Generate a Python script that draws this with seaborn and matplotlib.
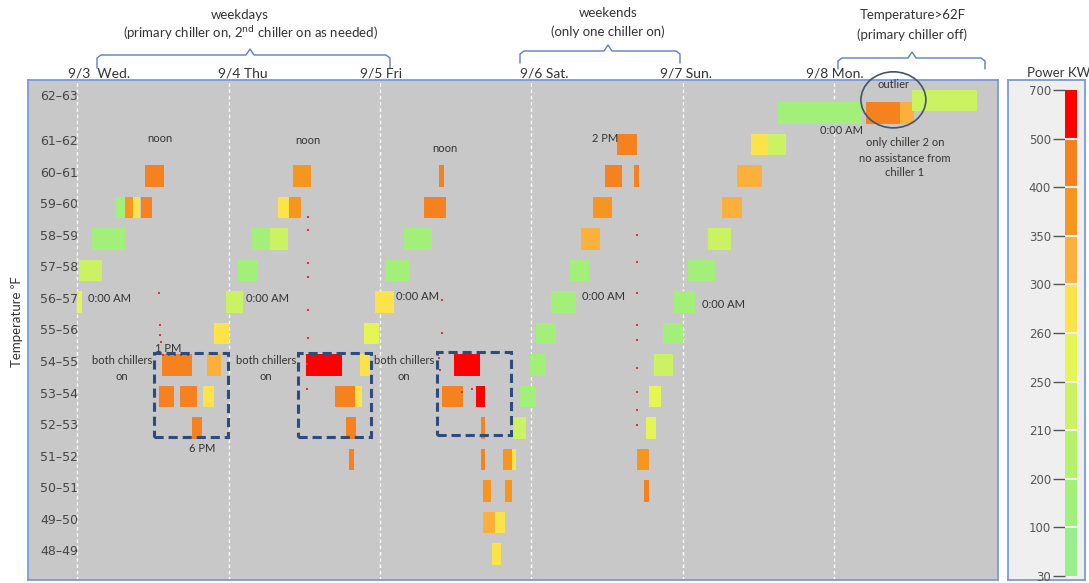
import numpy as np
import pandas as pd
import matplotlib
matplotlib.use("Agg")
import matplotlib.pyplot as plt
import seaborn as sns
from matplotlib.colors import ListedColormap, BoundaryNorm
from matplotlib.patches import Rectangle, Ellipse
from matplotlib.lines import Line2D
import matplotlib.colorbar as mcolorbar

# ---------------- data ----------------
temp_bin_low = [48, 49, 50, 51, 52, 53, 54, 55, 56, 57, 58, 59, 60, 61, 62]
temp_bins = [f"{b}\u2013{b+1}" for b in temp_bin_low]

kw_bounds = [30, 100, 200, 210, 250, 260, 300, 350, 400, 500, 700]
kw_colors = ['#98f08c', '#a2f07a', '#b4f26c', '#cbf263', '#e4f556',
             '#fde34a', '#fbb03b', '#f7961f', '#f5821f', '#ff0000']

day_labels = ['9/3  Wed.', '9/4 Thu', '9/5 Fri', '9/6 Sat.', '9/7 Sun.', '9/8 Mon.']
day_start_hours = [0, 24, 48, 72, 96, 120]

# blobs of readings: start hour, end hour (from 9/3 0:00), temperature bin, power kW
blob_t0 = [0.0, 0.2, 2.3, 6.0, 7.5, 8.8, 10.1, 10.8, 13.4, 20.6, 12.9, 16.2, 19.9, 18.1, 21.6, 23.5,
           25.4, 27.5, 30.5, 31.8, 33.5, 34.2, 36.2, 44.8, 40.8, 44.0, 42.6, 43.0, 45.4, 47.2,
           48.8, 51.8, 55.0, 57.4, 59.8, 57.8, 63.2, 64.0, 64.0, 67.5, 69.0, 64.3, 67.8, 64.3, 66.2,
           65.8, 69.1, 70.2, 71.8, 72.8, 75.1,
           78.1, 79.8, 81.7, 83.7, 85.6, 88.3, 88.8, 89.9, 90.2, 90.7, 91.5, 92.9, 94.6,
           96.9, 100.0, 102.2, 104.6, 106.9, 109.5, 111.1, 125.0, 130.5, 132.3]
blob_t1 = [0.8, 3.9, 7.5, 7.5, 8.8, 10.0, 11.8, 13.7, 18.1, 22.7, 15.3, 18.9, 21.6, 19.8, 24.0, 26.2,
           28.6, 30.5, 33.4, 33.5, 35.5, 37.1, 41.9, 46.4, 44.0, 45.1, 44.2, 43.8, 47.8, 50.2,
           52.6, 56.3, 58.4, 58.2, 63.8, 61.1, 64.6, 64.6, 64.6, 69.0, 69.6, 65.6, 69.0, 66.2, 67.8,
           67.1, 71.2, 72.8, 74.2, 75.9, 79.0,
           81.2, 82.9, 84.8, 86.4, 88.7, 89.0, 90.6, 90.6, 91.8, 92.5, 94.4, 96.0, 98.0,
           101.1, 103.7, 105.4, 108.5, 109.5, 112.3, 124.5, 130.5, 132.6, 142.6]
blob_temp = [56, 57, 58, 59, 59, 59, 59, 60, 54, 54, 53, 53, 53, 52, 55, 56,
             57, 58, 58, 59, 59, 60, 54, 54, 53, 53, 52, 51, 55, 56,
             57, 58, 59, 60, 54, 53, 53, 52, 51, 51, 51, 50, 50, 49, 49,
             48, 52, 53, 54, 55, 56,
             57, 58, 59, 60, 61, 60, 51, 50, 52, 53, 54, 55, 56,
             57, 58, 59, 60, 61, 61, 62, 62, 62, 62.4]
blob_kw = [250, 215, 150, 180, 380, 280, 400, 420, 450, 300, 420, 430, 290, 420, 280, 245,
           170, 160, 230, 290, 380, 380, 600, 290, 430, 290, 400, 400, 255, 265,
           190, 160, 400, 400, 600, 430, 550, 400, 400, 370, 280, 380, 360, 340, 290,
           280, 240, 170, 150, 150, 150,
           180, 330, 370, 400, 400, 400, 380, 400, 255, 250, 240, 180, 150,
           150, 230, 300, 340, 290, 220, 180, 430, 300, 230]

# isolated readings (thin trails)
dot_t = [13.0, 13.1, 13.1, 13.2, 13.6, 14.5, 15.5, 16.5, 17.5,
         36.6, 36.6, 36.6, 36.6, 36.6, 36.6, 36.4, 36.4,
         57.8, 57.8, 57.3, 57.5, 61.0, 62.5,
         88.8, 88.8, 88.8, 88.8, 88.8, 88.8, 88.8, 88.8, 88.8]
dot_temp = [56.66, 55.64, 55.33, 55.10, 54.68, 54.68, 54.68, 54.68, 54.68,
            59.07, 58.66, 57.61, 57.17, 56.12, 55.23, 54.40, 53.60,
            56.44, 55.39, 54.60, 54.20, 53.50, 53.60,
            58.50, 57.64, 56.66, 55.64, 55.17, 54.28, 53.52, 52.94, 52.47]

# ---------------- drawing ----------------
sns.set_style("white")
plt.rcParams['font.family'] = ['Lato', 'DejaVu Sans']

W, H = 1089, 583
fig = plt.figure(figsize=(W / 100, H / 100), dpi=100)


def fx(px):
    return px / W


def fy(py):
    return 1 - py / H


ax = fig.add_axes([fx(28), fy(580), (998 - 28) / W, (580 - 80) / H])
ax.set_facecolor('#c8c8c8')

for h in day_start_hours:
    ax.axvline(h, color='white', ls=(0, (2.5, 2)), lw=1, zorder=1)

cmap = ListedColormap(kw_colors)
norm = BoundaryNorm(kw_bounds, cmap.N)

blobs = pd.DataFrame(dict(t0=blob_t0, t1=blob_t1, temp=blob_temp, kw=blob_kw))
ax.bar(x=blobs.t0, height=0.68, width=blobs.t1 - blobs.t0, bottom=blobs.temp + 0.03,
       align='edge', color=cmap(norm(blobs.kw.values)), linewidth=0, zorder=2)

dots = pd.DataFrame(dict(t=dot_t, temp=dot_temp))
sns.scatterplot(data=dots, x='t', y='temp', color='#e0303a', marker='s', s=3.5,
                linewidth=0, ax=ax, zorder=3, legend=False)

ax.set_xlim(-7.83, 145.99)
ax.set_ylim(47.548, 63.42)
ax.set_xlabel('')
ax.set_ylabel('')
ax.set_xticks([])
ypos = [b + 0.5 for b in temp_bin_low]
ypos[-1] = 62.94
ax.set_yticks(ypos)
ax.set_yticklabels(temp_bins, family='DejaVu Sans')
ax.tick_params(axis='y', length=0, pad=-8.6, labelsize=9, labelcolor='#444444')
for lbl in ax.get_yticklabels():
    lbl.set_ha('left')
for s in ax.spines.values():
    s.set_color('#7b9bd0')
    s.set_linewidth(1.3)

# dashed boxes (both chillers on)
for (x0, y0, w, h) in [(12.2, 52.09, 11.7, 2.66), (35.0, 52.10, 11.6, 2.65), (57.1, 52.15, 11.7, 2.64)]:
    ax.add_patch(Rectangle((x0, y0), w, h, fill=False, ec='#2f4b7c', lw=2.2,
                           ls=(0, (3, 1.6)), zorder=4))

# outlier ellipse
ax.add_patch(Ellipse((129.4, 62.79), 10.3, 1.78, fill=False, ec='#44546a', lw=1.2,
                     zorder=4, clip_on=False))

# in-plot annotations (pixel positions)
tc = '#333333'
def ptext(x, y, s, size=8, **kw):
    fig.text(fx(x), fy(y), s, ha=kw.pop('ha', 'center'), va=kw.pop('va', 'center'),
             fontsize=size, color=kw.pop('color', tc), **kw)

for x, y in [(160, 139), (308, 141), (445, 148)]:
    ptext(x, y, 'noon')
ptext(605, 138, '2 PM')
for x, y in [(109, 298), (267, 299), (417, 297), (604, 297), (724, 305), (842, 130)]:
    ptext(x, y, '0:00 AM')
ptext(168, 349, '1 PM')
ptext(202, 448, '6 PM')
for x in [122, 266, 404]:
    ptext(x, 360, 'both chillers')
    ptext(x, 376, 'on')
ptext(894, 85, 'outlier')
ptext(905, 142, 'only chiller 2 on')
ptext(905, 158, 'no assistance from')
ptext(905, 173, 'chiller 1')

# date labels
for lab, x in zip(day_labels, [68, 218, 360, 520, 660, 806]):
    ptext(x, 73, lab, size=10, ha='left')

# top brackets and group labels
bc = '#5b7fc0'
for (x0, xm, x1, yh, yb) in [(97, 250, 390, 55, 68), (520, 608, 680, 51, 63), (838, 912, 985, 58, 69)]:
    xs = [x0, x0, x0 + 4, xm - 4, xm, xm + 4, x1 - 4, x1, x1]
    ys = [yb, yh + 3, yh, yh, yh - 6, yh, yh, yh + 3, yb]
    fig.add_artist(Line2D([fx(v) for v in xs], [fy(v) for v in ys], color=bc, lw=1))

ptext(240, 15, 'weekdays', size=9.5)
ptext(250, 33, '(primary chiller on, 2$^{\\mathrm{nd}}$ chiller on as needed)', size=9.5)
ptext(608, 13, 'weekends', size=9.5)
ptext(608, 32, '(only one chiller on)', size=9.5)
ptext(913, 15, 'Temperature>62F', size=9.5)
ptext(912, 35, '(primary chiller off)', size=9.5)

# y label
ptext(17, 322, 'Temperature \u2070F', size=9.5, rotation=90)

# colour legend panel
pax = fig.add_axes([fx(1008), fy(580), 77 / W, 500 / H])
pax.set_facecolor('#efefef')
pax.set_xticks([])
pax.set_yticks([])
for s in pax.spines.values():
    s.set_color('#7b9bd0')
    s.set_linewidth(1.3)

cax = fig.add_axes([fx(1065), fy(576), 12 / W, 486 / H])
cb = mcolorbar.ColorbarBase(cax, cmap=cmap, norm=norm, spacing='uniform',
                            ticks=kw_bounds, drawedges=True)
cb.outline.set_visible(False)
cb.dividers.set_color('#efefef')
cb.dividers.set_linewidth(1.5)
cax.yaxis.set_ticks_position('left')
cax.tick_params(axis='y', length=9, width=1, color='#555555', labelsize=8.5,
                labelcolor='#555555', pad=1)
for lbl in cax.get_yticklabels():
    lbl.set_family('DejaVu Sans')
ptext(1027, 73, 'Power KW', size=9.5, ha='left')

fig.savefig('out.png', dpi=100)
